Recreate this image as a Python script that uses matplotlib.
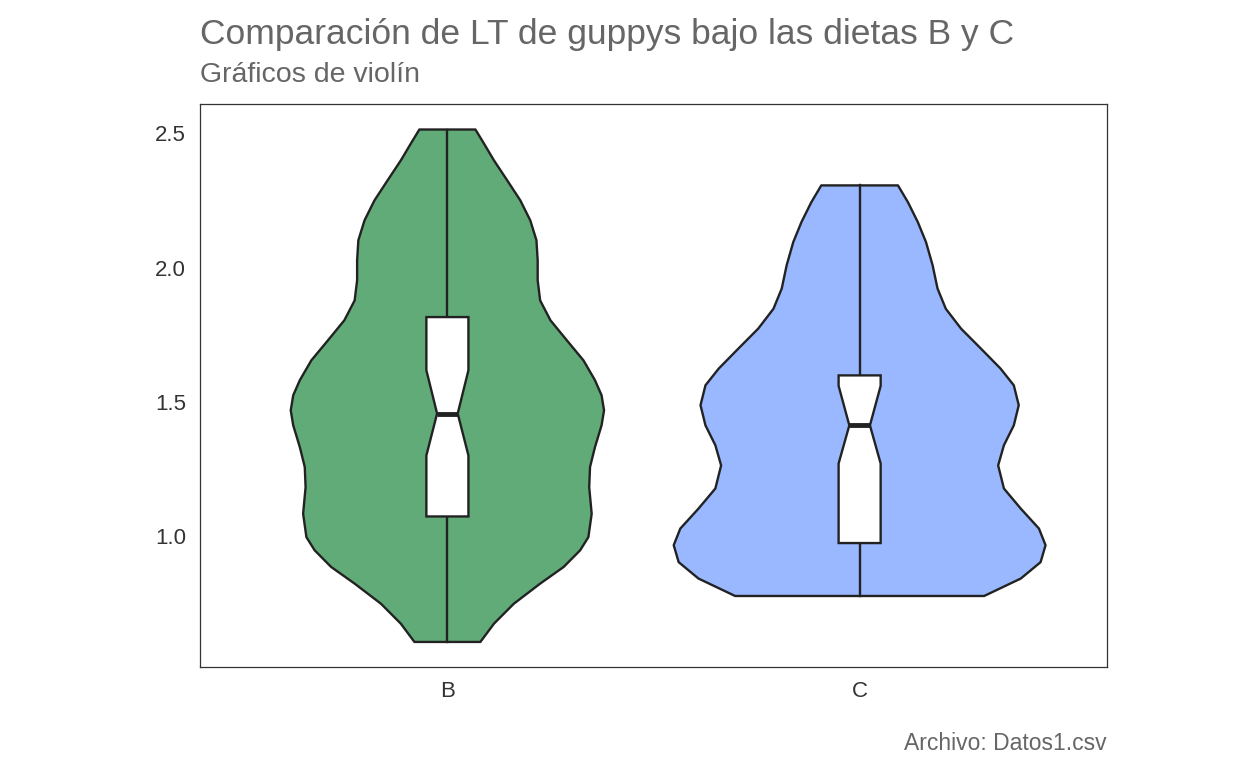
import numpy as np
import matplotlib.pyplot as plt

plt.rcParams['font.family'] = ['Liberation Sans', 'DejaVu Sans']

categories = ["B", "C"]
fill_colors = ["#61AB78", "#99B8FF"]

# violin outline: LT value and half width (category units)
b_y = [0.607, 0.675, 0.749, 0.824, 0.886, 0.948, 0.997, 1.084, 1.183, 1.258,
       1.332, 1.413, 1.469, 1.525, 1.581, 1.655, 1.729, 1.804, 1.878, 1.953,
       2.027, 2.102, 2.176, 2.250, 2.325, 2.399, 2.461, 2.514]
b_w = [0.080, 0.113, 0.161, 0.225, 0.282, 0.322, 0.342, 0.350, 0.344, 0.346,
       0.358, 0.374, 0.380, 0.374, 0.358, 0.330, 0.290, 0.250, 0.225, 0.219,
       0.219, 0.216, 0.201, 0.177, 0.145, 0.113, 0.089, 0.068]

c_y = [0.778, 0.843, 0.904, 0.967, 1.029, 1.103, 1.178, 1.264, 1.339, 1.413,
       1.488, 1.562, 1.624, 1.699, 1.773, 1.847, 1.922, 2.009, 2.095, 2.170,
       2.244, 2.306]
c_w = [0.302, 0.391, 0.439, 0.451, 0.435, 0.391, 0.350, 0.336, 0.350, 0.374,
       0.386, 0.374, 0.342, 0.294, 0.246, 0.209, 0.189, 0.177, 0.161, 0.141,
       0.117, 0.093]

# box stats: min, q1, notch low, median, notch high, q3, max
b_stats = [0.607, 1.074, 1.301, 1.457, 1.618, 1.816, 2.514]
c_stats = [0.778, 0.975, 1.271, 1.413, 1.560, 1.599, 2.306]

yticks = [1.0, 1.5, 2.0, 2.5]

fig = plt.figure(figsize=(12.48, 7.68), dpi=100)
ax = fig.add_axes([0.1603, 0.1309, 0.7267, 0.7337])

line_col = "#222222"
box_hw = 0.051
notch_hw = 0.025

violins = [(b_y, b_w, b_stats), (c_y, c_w, c_stats)]
for i, (vy, vw, st) in enumerate(violins):
    c = i + 1
    vy = np.array(vy)
    vw = np.array(vw)
    xs = np.concatenate([c + vw, (c - vw)[::-1]])
    ys = np.concatenate([vy, vy[::-1]])
    ax.fill(xs, ys, facecolor=fill_colors[i], edgecolor=line_col, lw=1.7,
            joinstyle="round", zorder=2)

    lo, q1, nlo, med, nhi, q3, hi = st
    ax.plot([c, c], [lo, q1], color=line_col, lw=1.7, zorder=3)
    ax.plot([c, c], [q3, hi], color=line_col, lw=1.7, zorder=3)
    bx = [c - box_hw, c - box_hw, c - notch_hw, c - box_hw, c - box_hw,
          c + box_hw, c + box_hw, c + notch_hw, c + box_hw, c + box_hw]
    by = [q1, nlo, med, nhi, q3, q3, nhi, med, nlo, q1]
    ax.fill(bx, by, facecolor="white", edgecolor=line_col, lw=1.7, zorder=4)
    ax.plot([c - notch_hw, c + notch_hw], [med, med], color=line_col, lw=3.5,
            solid_capstyle="butt", zorder=5)

ax.set_xlim(0.4, 2.6)
ax.set_ylim(0.512, 2.609)
ax.set_xticks([1, 2])
ax.set_xticklabels(categories)
ax.set_yticks(yticks)
ax.set_yticklabels([f"{v:.1f}" for v in yticks])
ax.tick_params(length=0, labelsize=16, colors="#333333", pad=10)
for s in ax.spines.values():
    s.set_color("#333333")
    s.set_linewidth(0.9)

fig.text(200 / 1248, 1 - 44 / 768, "Comparación de LT de guppys bajo las dietas B y C",
         fontsize=25.5, color="#666666", ha="left", va="baseline")
fig.text(200 / 1248, 1 - 82 / 768, "Gráficos de violín",
         fontsize=20.5, color="#666666", ha="left", va="baseline")
fig.text(1107 / 1248, 1 - 750 / 768, "Archivo: Datos1.csv",
         fontsize=16.5, color="#666666", ha="right", va="baseline")

fig.savefig("out.png", dpi=100)
